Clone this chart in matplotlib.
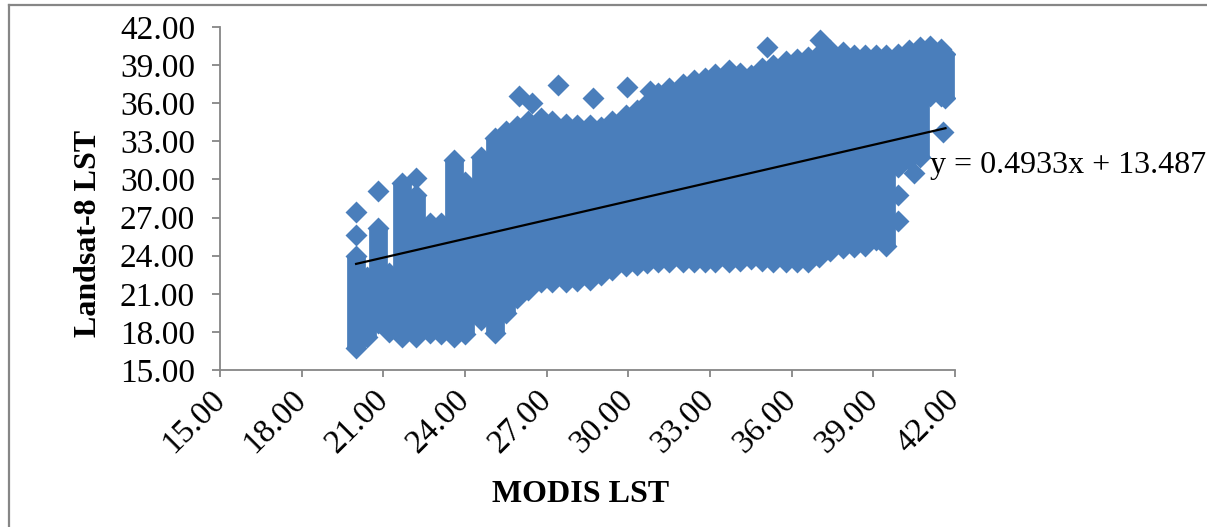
import matplotlib
matplotlib.use("Agg")
import matplotlib.pyplot as plt
from matplotlib.ticker import FormatStrFormatter
from matplotlib.lines import Line2D

# ---- data ----
# MODIS LST columns: x value, lowest and highest Landsat-8 LST in that column
col_x = [20.0, 20.4, 20.8, 21.2, 21.7, 22.2, 22.7, 23.1, 23.6, 24.0,
         24.6, 25.1, 25.5, 25.9, 26.3, 26.8, 27.2, 27.7, 28.1, 28.6,
         29.0, 29.4, 29.9, 30.3, 30.7, 31.1, 31.5, 32.0, 32.4, 32.8,
         33.2, 33.7, 34.1, 34.5, 34.9, 35.3, 35.8, 36.2, 36.6, 37.0,
         37.4, 37.9, 38.3, 38.7, 39.1, 39.45, 39.9, 40.3, 40.7, 41.1,
         41.5, 41.65]
col_lo = [16.7, 17.6, 18.7, 18.0, 17.6, 17.6, 17.9, 17.8, 17.6, 17.8,
          18.9, 17.9, 19.5, 20.7, 21.3, 21.9, 21.9, 21.9, 22.0, 22.1,
          22.5, 22.9, 23.2, 23.3, 23.4, 23.5, 23.5, 23.5, 23.5, 23.5,
          23.5, 23.5, 23.6, 23.7, 23.6, 23.5, 23.5, 23.5, 23.5, 23.9,
          24.4, 24.6, 24.7, 24.8, 25.2, 24.8, 31.0, 31.5, 31.8, 36.6,
          36.6, 36.4]
col_hi = [24.0, 22.3, 26.2, 22.6, 29.7, 28.8, 26.6, 26.6, 31.5, 29.8,
          31.8, 33.3, 33.8, 34.2, 34.6, 34.8, 34.6, 34.4, 34.3, 34.3,
          34.1, 34.6, 35.1, 35.5, 36.0, 36.8, 37.2, 37.5, 37.8, 38.0,
          38.3, 38.6, 38.4, 38.2, 38.8, 39.0, 39.3, 39.5, 39.6, 39.9,
          40.2, 40.0, 39.8, 39.8, 39.8, 39.8, 39.9, 40.2, 40.4, 40.5,
          40.3, 39.9]
# isolated points outside the dense cloud
out_x = [20.0, 20.0, 20.8, 22.2, 26.0, 26.45, 27.4, 28.7, 29.95, 30.8,
         35.1, 37.05, 41.55, 40.5, 39.9, 39.9]
out_y = [25.6, 27.4, 29.1, 30.1, 36.6, 36.0, 37.4, 36.4, 37.3, 37.0,
         40.4, 41.0, 33.7, 30.5, 28.8, 26.7]
# linear trend reported on the chart
fit_slope = 0.4933
fit_intercept = 13.487
ticks = [15, 18, 21, 24, 27, 30, 33, 36, 39, 42]

blue = "#4A7EBB"
grey = "#868686"
plt.rcParams['font.family'] = ['Liberation Serif', 'DejaVu Serif']

fig = plt.figure(figsize=(12.07, 5.27), dpi=100)
ax = fig.add_axes([220/1207, 1-370/527, 735/1207, 343/527])

# dense cloud drawn column by column
ax.vlines(col_x, col_lo, col_hi, colors=blue, linewidth=13.5, zorder=2)
ax.scatter(col_x + col_x, col_lo + col_hi, marker='D', s=125, color=blue,
           linewidths=0, zorder=2)
ax.scatter(out_x, out_y, marker='D', s=125, color=blue, linewidths=0, zorder=2)

# trend line
x0, x1 = min(col_x), max(col_x)
ax.plot([x0, x1], [fit_slope*x0 + fit_intercept, fit_slope*x1 + fit_intercept],
        color='black', linewidth=1.6, zorder=3)
ax.text(41.08, 31.1, f"y = {fit_slope}x + {fit_intercept}", fontsize=23,
        va='center', ha='left', clip_on=False, zorder=4)

ax.set_xlim(15, 42)
ax.set_ylim(15, 42)
ax.set_xticks(ticks)
ax.set_yticks(ticks)
ax.xaxis.set_major_formatter(FormatStrFormatter('%.2f'))
ax.yaxis.set_major_formatter(FormatStrFormatter('%.2f'))
for s in ['top', 'right']:
    ax.spines[s].set_visible(False)
for s in ['left', 'bottom']:
    ax.spines[s].set_color(grey)
    ax.spines[s].set_linewidth(1.3)
ax.tick_params(axis='y', direction='out', length=6, width=1.3, color=grey,
               labelsize=24, pad=12)
ax.tick_params(axis='x', direction='out', length=5, width=1.3, color=grey,
               labelsize=24, pad=13)
for lab in ax.get_xticklabels():
    lab.set_rotation(45)
    lab.set_ha('right')
    lab.set_va('center')
    lab.set_rotation_mode('anchor')

fig.text(88/1207, 1-233/527, "Landsat-8 LST", rotation=90, fontsize=23,
         fontweight='bold', ha='center', va='center')
fig.text(581/1207, 1-495/527, "MODIS LST", fontsize=23, fontweight='bold',
         ha='center', va='center')

# outer frame (left and top edges visible in the reference)
fig.add_artist(Line2D([9/1207, 9/1207], [0, 1-5/527], color=grey, linewidth=1.6))
fig.add_artist(Line2D([9/1207, 1], [1-5/527, 1-5/527], color=grey, linewidth=1.6))

fig.savefig("out.png", dpi=100)
